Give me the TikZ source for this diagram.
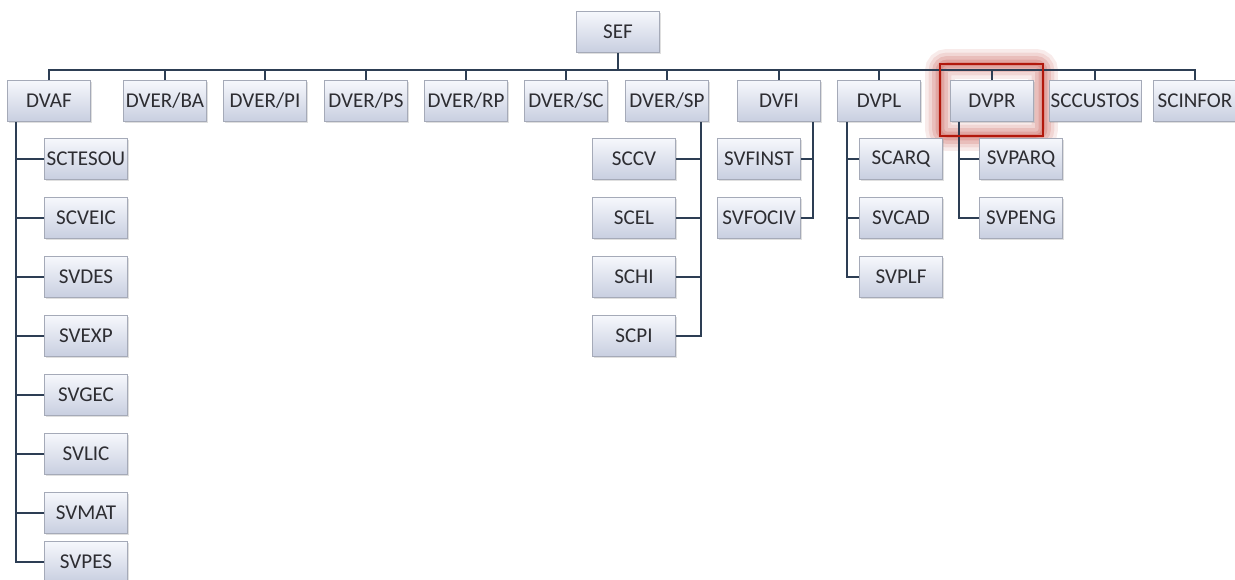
\documentclass[tikz,border=0pt]{standalone}
\usepackage{fontspec}
\setmainfont{Carlito}
\usetikzlibrary{shadows}
\definecolor{linkblue}{RGB}{45,62,84}
\definecolor{boxtop}{RGB}{246,247,252}
\definecolor{boxbot}{RGB}{200,207,224}
\definecolor{boxline}{RGB}{165,170,184}
\definecolor{txtgray}{RGB}{45,45,50}
\definecolor{hired}{RGB}{178,24,12}
\tikzset{
  orgbox/.style={draw=boxline, top color=boxtop, bottom color=boxbot,
    minimum width=1.66cm, minimum height=0.82cm, inner sep=1pt,
    text=txtgray, font=\fontsize{12}{14}\selectfont,
    drop shadow={shadow xshift=0.7pt, shadow yshift=-0.9pt, opacity=0.25}},
  link/.style={draw=linkblue, line width=0.8pt}
}
\begin{document}
\begin{tikzpicture}[x=0.02cm,y=-0.02cm]
\useasboundingbox (0,0) rectangle (1235,580);
% glow round the marked unit
\foreach \w/\o in {17/0.12,13/0.15,9/0.2,5/0.25,2/0.3}
  \draw[hired!70!white, opacity=\o, line width=\w pt, rounded corners=4pt] (940,64) rectangle (1043,136);
% top
\node[orgbox] (sef) at (618,32) {SEF};
\node[orgbox] (dvaf) at (49,101) {DVAF};
\foreach \x/\n/\t in {165/dverba/BA,265/dverpi/PI,366/dverps/PS,466/dverrp/RP,566/dversc/SC,667/dversp/SP}
  \node[orgbox] (\n) at (\x,101) {DVER/\t};
\node[orgbox] (dvfi) at (779,101) {DVFI};
\node[orgbox] (dvpl) at (879,101) {DVPL};
\node[orgbox] (dvpr) at (992,101) {DVPR};
\node[orgbox] (sccustos) at (1095,101) {SCCUSTOS};
\node[orgbox] (scinfor) at (1195,101) {SCINFOR};
% sub units
\foreach \y/\n/\t in {159/sctesou/SCTESOU,218/scveic/SCVEIC,277/svdes/SVDES,336/svexp/SVEXP,395/svgec/SVGEC,454/svlic/SVLIC,513/svmat/SVMAT,562/svpes/SVPES}
  \node[orgbox] (\n) at (86,\y) {\t};
\foreach \y/\n/\t in {159/sccv/SCCV,218/scel/SCEL,277/schi/SCHI,336/scpi/SCPI}
  \node[orgbox] (\n) at (634,\y) {\t};
\node[orgbox] (svfinst) at (759,159) {SVFINST};
\node[orgbox] (svfociv) at (759,218) {SVFOCIV};
\foreach \y/\n/\t in {159/scarq/SCARQ,218/svcad/SVCAD,277/svplf/SVPLF}
  \node[orgbox] (\n) at (901,\y) {\t};
\node[orgbox] (svparq) at (1021,159) {SVPARQ};
\node[orgbox] (svpeng) at (1021,218) {SVPENG};
% bus
\coordinate (bus) at (0,70);
\draw[link] (sef.south) -- (sef.south |- bus);
\draw[link] (dvaf.north) -- (dvaf.north |- bus) -- (scinfor.north |- bus) -- (scinfor.north);
\foreach \n in {dverba,dverpi,dverps,dverrp,dversc,dversp,dvfi,dvpl,dvpr,sccustos}
  \draw[link] (\n.north) -- (\n.north |- bus);
% branches
\draw[link] (dvaf.south west) ++(9,0) coordinate (afspine) |- (svpes.west);
\foreach \n in {sctesou,scveic,svdes,svexp,svgec,svlic,svmat}
  \draw[link] (\n.west) -- (\n.west -| afspine);
\draw[link] (dversp.south east) ++(-8,0) coordinate (spspine) |- (scpi.east);
\foreach \n in {sccv,scel,schi}
  \draw[link] (\n.east) -- (\n.east -| spspine);
\draw[link] (dvfi.south east) ++(-8,0) coordinate (fispine) |- (svfociv.east);
\draw[link] (svfinst.east) -- (svfinst.east -| fispine);
\draw[link] (dvpl.south west) ++(10,0) coordinate (plspine) |- (svplf.west);
\foreach \n in {scarq,svcad}
  \draw[link] (\n.west) -- (\n.west -| plspine);
\draw[link] (dvpr.south west) ++(9,0) coordinate (prspine) |- (svpeng.west);
\draw[link] (svparq.west) -- (svparq.west -| prspine);
% mark
\draw[hired, line width=1.1pt] (940,64) rectangle (1043,136);
\end{tikzpicture}
\end{document}
